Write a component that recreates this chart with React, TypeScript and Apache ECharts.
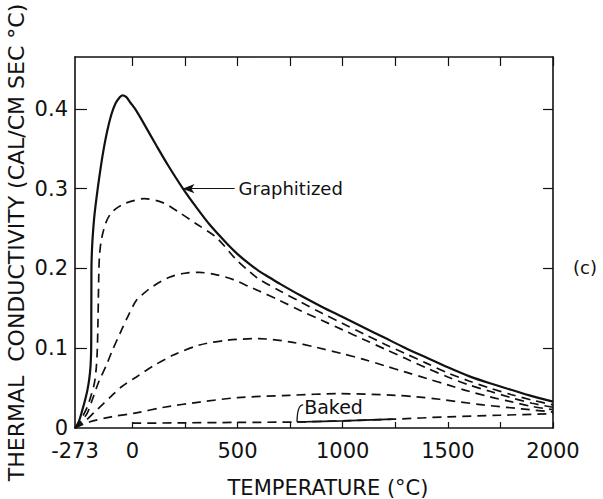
import React, { useEffect, useRef } from "react";
import * as echarts from "echarts";

// ---- Data (temperature in °C, thermal conductivity in cal/cm·sec·°C) ----
const graphitizedT = [-273, -255, -238, -225, -214, -205, -199, -196, -195.5, -195, -194.5, -192, -188, -180, -165, -150, -135, -120, -100, -80, -62, -48, -30, -10, 19, 60, 114, 170, 238, 300, 367, 450, 500, 550, 600, 650, 700, 800, 900, 1000, 1100, 1200, 1300, 1400, 1500, 1600, 1700, 1800, 1900, 2000];
const graphitizedK = [0, 0.008, 0.0225, 0.035, 0.0475, 0.062, 0.078, 0.1, 0.14, 0.18, 0.205, 0.225, 0.243, 0.268, 0.3, 0.328, 0.352, 0.372, 0.393, 0.407, 0.414, 0.417, 0.415, 0.408, 0.3975, 0.379, 0.354, 0.329, 0.301, 0.278, 0.255, 0.231, 0.218, 0.207, 0.197, 0.189, 0.181, 0.166, 0.152, 0.139, 0.126, 0.113, 0.1, 0.088, 0.076, 0.065, 0.056, 0.048, 0.04, 0.033];

const dashed1T = [-273, -255, -238, -215, -195, -181, -172, -167, -164, -162, -160, -157, -150, -140, -125, -105, -78, -40, -14, 57, 144, 224, 303, 398, 494, 557, 600, 700, 800, 900, 1000, 1100, 1200, 1300, 1400, 1500, 1600, 1700, 1800, 1900, 2000];
const dashed1K = [0, 0.006, 0.014, 0.026, 0.042, 0.056, 0.075, 0.0975, 0.13, 0.16, 0.19, 0.214, 0.232, 0.245, 0.258, 0.268, 0.275, 0.281, 0.2835, 0.2875, 0.2825, 0.27, 0.256, 0.239, 0.211, 0.196, 0.187, 0.172, 0.158, 0.144, 0.131, 0.118, 0.105, 0.093, 0.081, 0.069, 0.059, 0.05, 0.042, 0.035, 0.029];

const dashed2T = [-273, -255, -240, -214, -190, -160, -125, -95, -60, -25, 19, 60, 100, 176, 250, 319, 400, 480, 557, 600, 700, 800, 900, 1000, 1100, 1200, 1300, 1400, 1500, 1600, 1700, 1800, 1900, 2000];
const dashed2K = [0, 0.004, 0.009, 0.019, 0.036, 0.058, 0.078, 0.0975, 0.118, 0.138, 0.16, 0.17, 0.178, 0.189, 0.194, 0.195, 0.192, 0.186, 0.177, 0.172, 0.16, 0.147, 0.135, 0.123, 0.111, 0.099, 0.087, 0.075, 0.064, 0.054, 0.046, 0.038, 0.031, 0.026];

const dashed3T = [-273, -250, -219, -180, -140, -100, -50, 19, 100, 200, 319, 450, 600, 748, 876, 1000, 1100, 1200, 1300, 1400, 1500, 1600, 1700, 1800, 1900, 2000];
const dashed3K = [0, 0.004, 0.01, 0.02, 0.03, 0.04, 0.052, 0.064, 0.078, 0.092, 0.104, 0.11, 0.112, 0.108, 0.101, 0.093, 0.086, 0.078, 0.07, 0.062, 0.054, 0.046, 0.039, 0.033, 0.027, 0.023];

const dashed4T = [-273, -205, -100, 19, 150, 319, 500, 748, 985, 1250, 1352, 1460, 1667, 1850, 2000];
const dashed4K = [0, 0.0075, 0.014, 0.019, 0.026, 0.0325, 0.038, 0.041, 0.043, 0.041, 0.039, 0.036, 0.029, 0.024, 0.02];

const bakedT = [0, 250, 500, 783, 1000, 1238, 1500, 1750, 2000];
const bakedK = [0.006, 0.0065, 0.007, 0.0075, 0.009, 0.011, 0.014, 0.016, 0.018];
const bakedSolidRange = [783, 1238];

// ---- Axis ticks / labels ----
const xLabelValues = [-273, 0, 500, 1000, 1500, 2000];
const xTickValues = [0, 250, 500, 750, 1000, 1250, 1500, 1750, 2000];
const yLabelValues = [0, 0.1, 0.2, 0.3, 0.4];
const yTickValues = [0.1, 0.2, 0.3, 0.4];

// ---- Annotation anchors (data coordinates) ----
const graphitizedArrow = [[238, 0.3], [486, 0.3]];
const bakedLeader = [[783, 0.0075], [812, 0.029]];

const zip = (t: number[], k: number[]) => t.map((v, i) => [v, k[i]]);

export default function App() {
  const ref = useRef<HTMLDivElement>(null);
  useEffect(() => {
    if (!ref.current) return;
    const chart = echarts.init(ref.current, null, { renderer: "svg" });
    const font = "DejaVu Sans";
    const black = "#111";
    const dash = [9, 6];
    const lineBase = (name: string, data: number[][], dashed: boolean, width: number) => ({
      name,
      type: "line",
      data,
      showSymbol: false,
      smooth: 0.3,
      silent: true,
      lineStyle: { color: black, width, type: dashed ? dash : "solid" },
      itemStyle: { color: black },
      z: 3,
    });
    const bakedData = zip(bakedT, bakedK);
    const bakedSolid = bakedData.filter((p) => p[0] >= bakedSolidRange[0] && p[0] <= bakedSolidRange[1]);

    const graphSeries: any = lineBase("Graphitized", zip(graphitizedT, graphitizedK), false, 2.2);
    graphSeries.markLine = {
      silent: true,
      symbol: ["arrow", "none"],
      symbolSize: [7, 12],
      lineStyle: { color: black, width: 1, type: "solid" },
      label: {
        show: true,
        position: "end",
        formatter: "Graphitized",
        fontFamily: font,
        fontSize: 18,
        color: black,
        distance: 4,
      },
      data: [[{ coord: graphitizedArrow[0] }, { coord: graphitizedArrow[1] }]],
    };

    const axisLine = { onZero: false, lineStyle: { color: black, width: 1.6 } };
    const tickStyle = { color: black, width: 1.2 };

    const option: any = {
      animation: false,
      backgroundColor: "#fff",
      grid: { left: 75, right: 50, top: 57, bottom: 71, containLabel: false, outerBoundsMode: "none" },
      xAxis: [
        {
          type: "value",
          min: -273,
          max: 2000,
          position: "bottom",
          name: "TEMPERATURE (°C)",
          nameLocation: "middle",
          nameGap: 49,
          nameMoveOverlap: false,
          nameTextStyle: { fontFamily: font, fontSize: 21, color: black, padding: [0, 0, 0, 28] },
          axisLine,
          axisTick: { inside: true, length: 6, customValues: xTickValues, lineStyle: tickStyle },
          axisLabel: {
            customValues: xLabelValues,
            fontFamily: font,
            fontSize: 21,
            color: black,
            margin: 12,
            formatter: (v: number) => String(v),
          },
          splitLine: { show: false },
        },
        {
          type: "value",
          min: -273,
          max: 2000,
          position: "top",
          axisLine,
          axisTick: { inside: true, length: 9, customValues: xTickValues, lineStyle: tickStyle },
          axisLabel: { show: false },
          splitLine: { show: false },
        },
      ],
      yAxis: [
        {
          type: "value",
          min: 0,
          max: 0.465,
          position: "left",
          name: "THERMAL  CONDUCTIVITY (CAL/CM SEC °C)",
          nameLocation: "middle",
          nameGap: 48,
          nameMoveOverlap: false,
          nameRotate: 90,
          nameTextStyle: { fontFamily: font, fontSize: 22, color: black },
          axisLine,
          axisTick: { inside: true, length: 12, customValues: yTickValues, lineStyle: tickStyle },
          axisLabel: {
            customValues: yLabelValues,
            fontFamily: font,
            fontSize: 21,
            color: black,
            margin: 7,
            formatter: (v: number) => (v === 0 ? "0" : v.toFixed(1)),
          },
          splitLine: { show: false },
        },
        {
          type: "value",
          min: 0,
          max: 0.465,
          position: "right",
          axisLine,
          axisTick: { inside: true, length: 10, customValues: yTickValues, lineStyle: tickStyle },
          axisLabel: { show: false },
          splitLine: { show: false },
        },
      ],
      series: [
        graphSeries,
        lineBase("Dashed 1", zip(dashed1T, dashed1K), true, 1.7),
        lineBase("Dashed 2", zip(dashed2T, dashed2K), true, 1.7),
        lineBase("Dashed 3", zip(dashed3T, dashed3K), true, 1.7),
        lineBase("Dashed 4", zip(dashed4T, dashed4K), true, 1.7),
        lineBase("Baked", bakedData, true, 1.7),
        lineBase("Baked (solid part)", bakedSolid, false, 1.7),
      ],
    };
    chart.setOption(option);

    const p0 = chart.convertToPixel({ xAxisIndex: 0, yAxisIndex: 0 }, bakedLeader[0]) as number[];
    const p1 = chart.convertToPixel({ xAxisIndex: 0, yAxisIndex: 0 }, bakedLeader[1]) as number[];
    chart.setOption({
      graphic: [
        {
          type: "bezierCurve",
          shape: { x1: p0[0], y1: p0[1], cpx1: p0[0], cpy1: p1[1], x2: p1[0], y2: p1[1] },
          style: { stroke: black, lineWidth: 1.3, fill: "none" },
          z: 10,
        },
        {
          type: "text",
          x: p1[0] + 1,
          y: p1[1] + 2,
          style: { text: "Baked", fontFamily: font, fontSize: 19, fill: black, textVerticalAlign: "middle" },
          z: 10,
        },
        {
          type: "text",
          left: 573,
          top: 258,
          style: { text: "(c)", fontFamily: font, fontSize: 18, fill: black },
          z: 10,
        },
      ],
    });
    return () => chart.dispose();
  }, []);
  return <div ref={ref} style={{ position: "fixed", left: 0, top: 0, width: 603, height: 499, background: "#fff" }} />;
}
